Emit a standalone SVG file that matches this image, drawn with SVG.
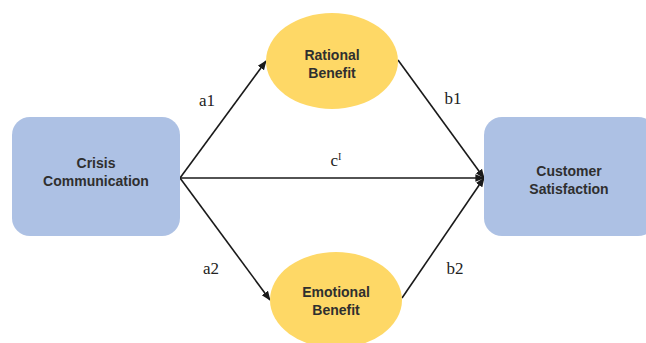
<svg xmlns="http://www.w3.org/2000/svg" width="646" height="343" viewBox="0 0 646 343">
<style>
.box{fill:#adc1e4;}
.ell{fill:#fed866;}
.nt{font-family:"Liberation Sans",Arial,sans-serif;font-size:14px;font-weight:bold;fill:#2f2f2f;text-anchor:middle;}
.lbl{font-family:"Liberation Serif","Times New Roman",serif;font-size:17px;fill:#222;text-anchor:middle;}
.edge{stroke:#1a1a1a;stroke-width:1.6;fill:none;marker-end:url(#ah);}
</style>
<defs>
<marker id="ah" viewBox="0 0 10 10" refX="9" refY="5" markerWidth="6" markerHeight="6" orient="auto" markerUnits="strokeWidth">
<path d="M0,1 L10,5 L0,9 z" fill="#1a1a1a"/>
</marker>
</defs>
<rect width="646" height="343" fill="#ffffff"/>
<g id="connectors">
<line class="edge" x1="180" y1="178" x2="266" y2="61"/>
<line class="edge" x1="180" y1="178" x2="270" y2="300"/>
<line class="edge" x1="180" y1="178" x2="484" y2="178"/>
<line class="edge" x1="398" y1="60" x2="484" y2="178"/>
<line class="edge" x1="402" y1="298" x2="484" y2="178"/>
<text class="lbl" x="207" y="106">a1</text>
<text class="lbl" x="211" y="274">a2</text>
<text class="lbl" x="453" y="104">b1</text>
<text class="lbl" x="455" y="274">b2</text>
<text class="lbl" x="336" y="166">c<tspan font-size="10" dy="-6">I</tspan></text>
</g>
<g id="crisis">
<rect class="box" x="12" y="117" width="168" height="119" rx="18"/>
<text class="nt" x="96" y="168">Crisis</text>
<text class="nt" x="96" y="186">Communication</text>
</g>
<g id="customer">
<rect class="box" x="484" y="117" width="172" height="119" rx="18"/>
<text class="nt" x="569" y="176">Customer</text>
<text class="nt" x="569" y="194">Satisfaction</text>
</g>
<g id="rational">
<ellipse class="ell" cx="332" cy="61" rx="66" ry="48"/>
<text class="nt" x="332" y="60">Rational</text>
<text class="nt" x="332" y="78">Benefit</text>
</g>
<g id="emotional">
<ellipse class="ell" cx="336" cy="300" rx="66" ry="48"/>
<text class="nt" x="336" y="297">Emotional</text>
<text class="nt" x="336" y="315">Benefit</text>
</g>
</svg>
